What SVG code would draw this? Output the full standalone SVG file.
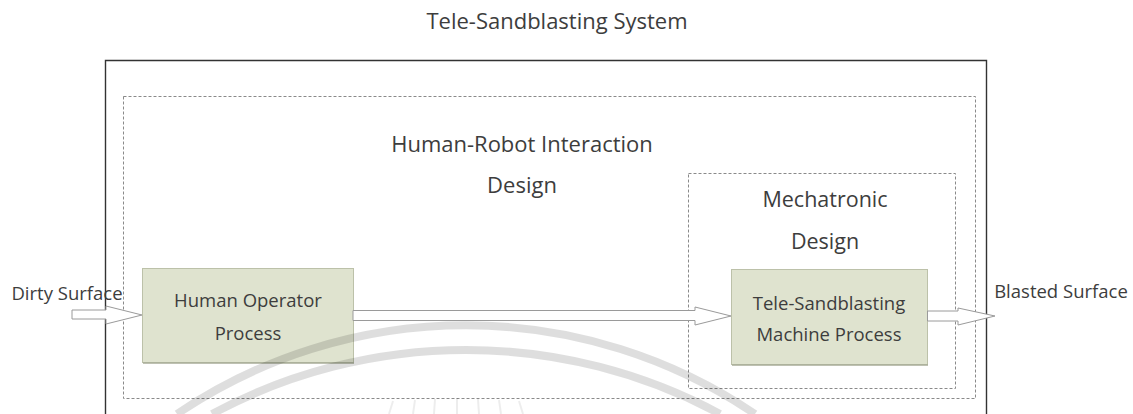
<svg xmlns="http://www.w3.org/2000/svg" width="1133" height="414" viewBox="0 0 1133 414">
<style>
text{font-family:"Open Sans","Noto Sans","Liberation Sans",sans-serif;fill:#3d3d3d;text-anchor:middle}
.dash{fill:none;stroke:#8a8a8a;stroke-width:1;stroke-dasharray:3 2}
.proc{fill:#dfe3cf;stroke:#bcc1a9;stroke-width:1}
.shadow{fill:none;stroke:#a9ad98;stroke-width:1.5}
.arrow{fill:#fff;stroke:#9a9a9a;stroke-width:1}
.wm{fill:none;stroke:#000;stroke-opacity:0.13;stroke-width:8}
.ray{stroke:#000;stroke-opacity:0.07;stroke-width:2}
</style>
<rect width="1133" height="414" fill="#fff"/>
<g id="title"><text x="557" y="29" font-size="22">Tele-Sandblasting System</text></g>
<g id="system"><path d="M105.5,420 V60.5 H986.5 V420" fill="none" stroke="#333" stroke-width="1.4"/></g>
<g id="hri-design">
<rect class="dash" x="123.5" y="96.5" width="852" height="302"/>
<text x="522" y="152" font-size="22">Human-Robot Interaction</text>
<text x="522" y="193" font-size="22">Design</text>
</g>
<g id="mechatronic-design">
<rect class="dash" x="688.5" y="173.5" width="267" height="215"/>
<text x="825" y="207" font-size="21.5">Mechatronic</text>
<text x="825" y="249" font-size="21.5">Design</text>
</g>
<g id="human-operator">
<rect class="proc" x="142.5" y="268.5" width="211" height="94"/>
<line class="shadow" x1="143" y1="363" x2="354" y2="363"/>
<text x="248" y="307" font-size="18.5">Human Operator</text>
<text x="248" y="340" font-size="18.5">Process</text>
</g>
<g id="machine">
<rect class="proc" x="731.5" y="269.5" width="196" height="95"/>
<line class="shadow" x1="732" y1="365" x2="928" y2="365"/>
<text x="829" y="310" font-size="18.5">Tele-Sandblasting</text>
<text x="829" y="341" font-size="18.5">Machine Process</text>
</g>
<g id="dirty-surface"><text x="67" y="300" font-size="18.5">Dirty Surface</text></g>
<g id="blasted-surface"><text x="1061" y="298" font-size="18.5">Blasted Surface</text></g>
<g id="connectors">
<polygon class="arrow" points="72,310 106,310 106,306 142,315 106,324 106,319 72,319"/>
<polygon class="arrow" points="353,310.5 695,310.5 695,307 731,316 695,325 695,320.5 353,320.5"/>
<polygon class="arrow" points="927.5,311 958,311 958,308 995,316 958,325 958,321 927.5,321"/>
</g>
<g id="watermark">
<path class="wm" d="M177,414 A515,515 0 0 1 755,414"/>
<path class="wm" d="M212,414 A536,536 0 0 1 720,414"/>
<line class="ray" x1="393" y1="401" x2="389" y2="414"/>
<line class="ray" x1="415" y1="400" x2="413" y2="414"/>
<line class="ray" x1="435" y1="399" x2="434" y2="414"/>
<line class="ray" x1="457" y1="398" x2="457" y2="414"/>
<line class="ray" x1="478" y1="399" x2="479" y2="414"/>
<line class="ray" x1="499" y1="400" x2="501" y2="414"/>
<line class="ray" x1="519" y1="401" x2="523" y2="414"/>
</g>
</svg>
